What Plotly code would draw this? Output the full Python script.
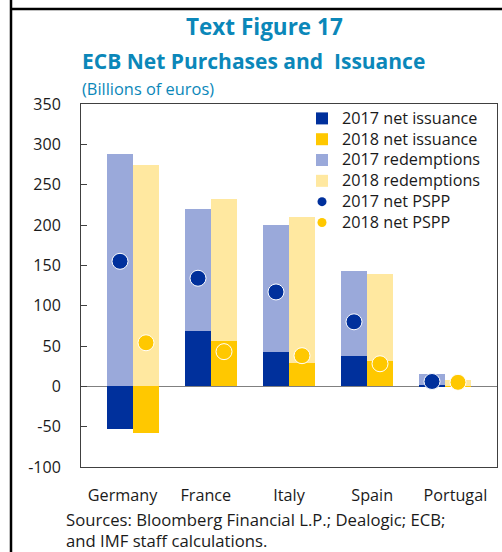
import plotly.graph_objects as go

countries = ["Germany", "France", "Italy", "Spain", "Portugal"]
issuance_2017 = [-53, 68, 43, 37, 2]
issuance_2018 = [-58, 56, 29, 32, 1]
redemptions_2017 = [288, 152, 157, 106, 13]
redemptions_2018 = [274, 176, 181, 107, 7]
pspp_2017 = [155, 134, 117, 80, 6]
pspp_2018 = [54, 43, 38, 28, 5]
ytick_vals = [-100, -50, 0, 50, 100, 150, 200, 250, 300, 350]
ytick_text = ["-100", "-50", "0", "50", "100", "150", "200", "250", "300", "350"]

DARK_BLUE = "#00309C"
YELLOW = "#FFC800"
LIGHT_BLUE = "#9AA9DA"
LIGHT_YELLOW = "#FFE8A0"
TEAL = "#0B87B9"
FONT = "Open Sans"
TXT = "#1a1a1a"

idx = list(range(len(countries)))
x17 = [i - 1/6 for i in idx]
x18 = [i + 1/6 for i in idx]
W = 1/3
XMIN, XMAX = -2/3, len(countries) - 1 + 2/3
# category labels sit at evenly spaced slots across the axis (as in the source)
slot = (XMAX - XMIN) / len(countries)
label_pos = [XMIN + (i + 0.5) * slot for i in idx]

def lg(name):
    return '<span style="font-size:16.2px">' + name + '</span>'

fig = go.Figure()
fig.add_bar(x=x17, y=issuance_2017, width=W, name=lg("2017 net issuance"),
            marker=dict(color=DARK_BLUE, line=dict(width=0)))
fig.add_bar(x=x18, y=issuance_2018, width=W, name=lg("2018 net issuance"),
            marker=dict(color=YELLOW, line=dict(width=0)))
fig.add_bar(x=x17, y=redemptions_2017, width=W, name=lg("2017 redemptions"),
            marker=dict(color=LIGHT_BLUE, line=dict(width=0)))
fig.add_bar(x=x18, y=redemptions_2018, width=W, name=lg("2018 redemptions"),
            marker=dict(color=LIGHT_YELLOW, line=dict(width=0)))
fig.add_scatter(x=x17, y=pspp_2017, mode="markers", showlegend=False,
                marker=dict(color=DARK_BLUE, size=16, line=dict(color="white", width=1)))
fig.add_scatter(x=x18, y=pspp_2018, mode="markers", showlegend=False,
                marker=dict(color=YELLOW, size=16, line=dict(color="white", width=1)))
# legend entries for the dots (smaller symbols)
fig.add_scatter(x=[None], y=[None], mode="markers", name=lg("2017 net PSPP"),
                marker=dict(color=DARK_BLUE, size=9))
fig.add_scatter(x=[None], y=[None], mode="markers", name=lg("2018 net PSPP"),
                marker=dict(color=YELLOW, size=9))

L, R, T, B = 81, 5, 104, 85
PW, PH = 502 - L - R, 552 - T - B

def px(x):
    return (x - L) / PW

def py(y):
    return (552 - B - y) / PH

fig.update_layout(
    width=502, height=552,
    margin=dict(l=L, r=R, t=T, b=B, pad=0),
    paper_bgcolor="white", plot_bgcolor="white",
    barmode="relative", bargap=0,
    font=dict(family=FONT, size=16, color=TXT),
    showlegend=True,
    legend=dict(x=px(302), y=py(103), xanchor="left", yanchor="top",
                bgcolor="rgba(0,0,0,0)", borderwidth=0,
                font=dict(size=13.7, color=TXT),
                tracegroupgap=0, itemwidth=30, traceorder="normal"),
    xaxis=dict(range=[XMIN, XMAX], tickvals=label_pos, ticktext=countries,
               showgrid=False, zeroline=False, ticks="",
               showline=True, linecolor="#404040", linewidth=1, mirror=True,
               ticklabelstandoff=14, tickfont=dict(size=16.2)),
    yaxis=dict(range=[-100, 350], tickvals=ytick_vals, ticktext=ytick_text,
               showgrid=False, zeroline=True, zerolinecolor="#808080", zerolinewidth=1,
               ticks="inside", ticklen=6, tickcolor="#404040",
               showline=True, linecolor="#404040", linewidth=1, mirror=True,
               ticklabelstandoff=16, tickfont=dict(size=16)),
    annotations=[
        dict(text="<b>Text Figure 17</b>", x=px(264), y=py(27), xref="paper", yref="paper",
             xanchor="center", yanchor="middle", showarrow=False,
             font=dict(size=22.5, color=TEAL, family=FONT)),
        dict(text="<b>ECB Net Purchases and  Issuance</b>", x=px(80), y=py(61),
             xref="paper", yref="paper", xanchor="left", yanchor="middle", showarrow=False,
             font=dict(size=21, color=TEAL, family=FONT)),
        dict(text="(Billions of euros)", x=px(80), y=py(88), xref="paper", yref="paper",
             xanchor="left", yanchor="middle", showarrow=False,
             font=dict(size=16.4, color=TEAL, family=FONT)),
        dict(text="Sources: Bloomberg Financial L.P.; Dealogic; ECB;", x=px(64), y=py(519),
             xref="paper", yref="paper", xanchor="left", yanchor="middle", showarrow=False,
             font=dict(size=16.7, color=TXT, family=FONT)),
        dict(text="and IMF staff calculations.", x=px(64), y=py(540),
             xref="paper", yref="paper", xanchor="left", yanchor="middle", showarrow=False,
             font=dict(size=16.7, color=TXT, family=FONT)),
    ],
    shapes=[
        dict(type="line", xref="paper", yref="paper", x0=px(11), x1=px(11),
             y0=py(0), y1=py(552), line=dict(color="black", width=2.5)),
        dict(type="line", xref="paper", yref="paper", x0=px(11), x1=px(502),
             y0=py(9), y1=py(9), line=dict(color="black", width=2.5)),
    ],
)

fig.write_html("out.html", config={"displayModeBar": False},
               post_script="document.body.style.margin='0';document.body.style.overflow='hidden';")
